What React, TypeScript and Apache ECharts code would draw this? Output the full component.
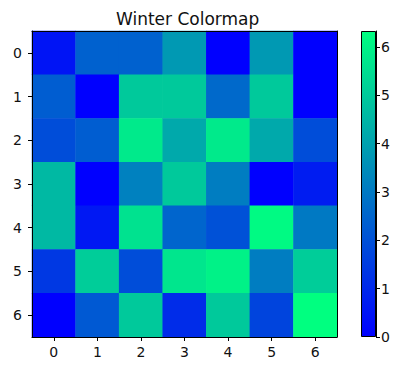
import React, { useEffect, useRef } from "react";
import * as echarts from "echarts";

const xLabels = ["0", "1", "2", "3", "4", "5", "6"];
const yLabels = ["0", "1", "2", "3", "4", "5", "6"];
const row0 = [0.5, 2.4, 2.4, 3.8, 0.0, 3.8, 0.0];
const row1 = [2.3, 0.0, 5.0, 5.0, 2.6, 5.0, 0.0];
const row2 = [1.9, 2.3, 5.8, 4.2, 5.8, 4.2, 1.9];
const row3 = [4.6, 0.0, 3.2, 5.0, 3.1, 0.0, 0.7];
const row4 = [4.6, 0.6, 5.6, 2.5, 2.0, 6.2, 3.0];
const row5 = [1.4, 5.1, 1.9, 5.7, 6.0, 3.1, 5.1];
const row6 = [0.0, 2.2, 5.0, 1.1, 5.0, 1.7, 6.33];
const rows = [row0, row1, row2, row3, row4, row5, row6];
const colorbarTicks = [0, 1, 2, 3, 4, 5, 6];
const vMin = 0;
const vMax = 6.33;

const FONT = "DejaVu Sans";

export default function App() {
  const ref = useRef<HTMLDivElement>(null);
  useEffect(() => {
    if (!ref.current) return;
    const chart = echarts.init(ref.current, null, { renderer: "svg" });
    const data: number[][] = [];
    rows.forEach((r, yi) => r.forEach((v, xi) => data.push([xi, yi, v])));
    const frameLine = { show: true, lineStyle: { color: "#000", width: 1 } };
    chart.setOption({
      animation: false,
      backgroundColor: "#fff",
      textStyle: { fontFamily: FONT },
      title: {
        text: "Winter Colormap",
        left: 111,
        top: 5,
        textStyle: { fontFamily: FONT, fontSize: 17, fontWeight: "normal", color: "#111" },
      },
      grid: [
        { left: 32, top: 31, width: 305, height: 306 },
        { left: 361, top: 31, width: 15, height: 306 },
      ],
      xAxis: [
        {
          type: "category",
          data: xLabels,
          gridIndex: 0,
          position: "bottom",
          z: 5,
          axisLine: frameLine,
          axisTick: { show: true, alignWithLabel: true, length: 4, lineStyle: { color: "#000" } },
          axisLabel: { fontFamily: FONT, fontSize: 14, color: "#111", margin: 8 },
          splitLine: { show: false },
        },
        {
          type: "category",
          data: xLabels,
          gridIndex: 0,
          position: "top",
          z: 5,
          axisLine: frameLine,
          axisTick: { show: false },
          axisLabel: { show: false },
        },
        {
          type: "category",
          data: ["cb"],
          gridIndex: 1,
          show: false,
        },
      ],
      yAxis: [
        {
          type: "category",
          data: yLabels,
          gridIndex: 0,
          inverse: true,
          position: "left",
          z: 5,
          axisLine: frameLine,
          axisTick: { show: true, alignWithLabel: true, length: 4, lineStyle: { color: "#000" } },
          axisLabel: { fontFamily: FONT, fontSize: 14, color: "#111", margin: 10 },
          splitLine: { show: false },
        },
        {
          type: "category",
          data: yLabels,
          gridIndex: 0,
          inverse: true,
          position: "right",
          z: 5,
          axisLine: frameLine,
          axisTick: { show: false },
          axisLabel: { show: false },
        },
        {
          type: "value",
          gridIndex: 1,
          min: vMin,
          max: vMax,
          position: "right",
          z: 5,
          axisLine: frameLine,
          axisTick: {
            show: true,
            length: 4,
            customValues: colorbarTicks,
            lineStyle: { color: "#000" },
          },
          axisLabel: {
            fontFamily: FONT,
            fontSize: 14,
            color: "#111",
            margin: 5,
            customValues: colorbarTicks,
          },
          splitLine: { show: false },
        },
      ],
      visualMap: {
        show: false,
        type: "continuous",
        min: vMin,
        max: vMax,
        seriesIndex: 0,
        dimension: 2,
        inRange: { color: ["#0000ff", "#00ff80"] },
      },
      series: [
        {
          type: "heatmap",
          xAxisIndex: 0,
          yAxisIndex: 0,
          data,
          itemStyle: { borderWidth: 0 },
        },
        {
          type: "bar",
          xAxisIndex: 2,
          yAxisIndex: 2,
          data: [vMax],
          barWidth: "100%",
          itemStyle: {
            borderColor: "#000",
            borderWidth: 1,
            color: new echarts.graphic.LinearGradient(0, 0, 0, 1, [
              { offset: 0, color: "#00ff80" },
              { offset: 1, color: "#0000ff" },
            ]),
          },
        },
      ],
    });
    return () => chart.dispose();
  }, []);
  return (
    <div
      ref={ref}
      style={{ position: "absolute", left: 0, top: 0, width: 400, height: 367 }}
    />
  );
}
